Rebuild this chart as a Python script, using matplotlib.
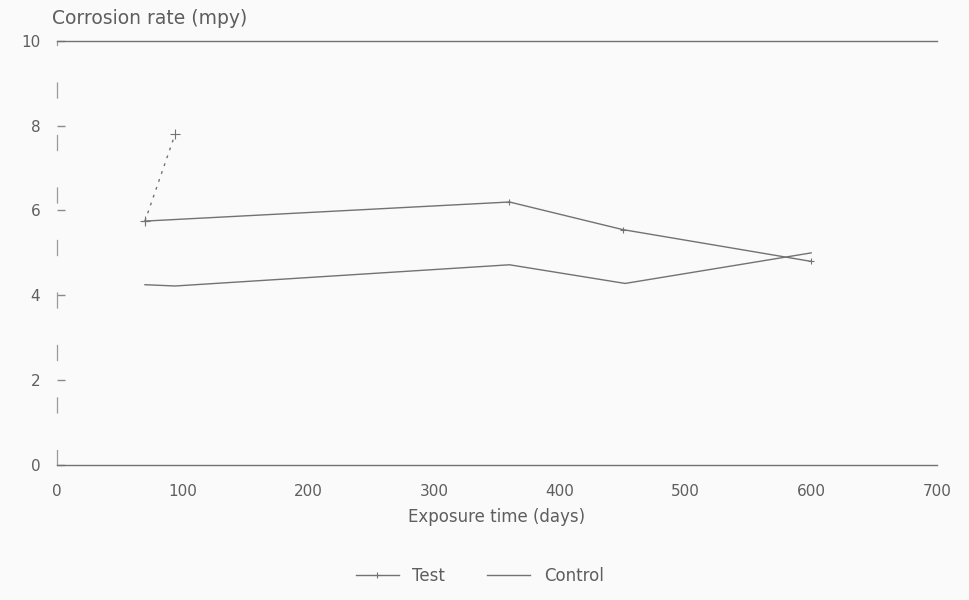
import matplotlib.pyplot as plt

# values
test_days = [70, 360, 450, 600]
test_rate = [5.75, 6.2, 5.55, 4.8]
# short dotted piece at the start of the test curve
test_early_days = [70, 94]
test_early_rate = [5.75, 7.8]

control_days = [70, 94, 360, 452, 600]
control_rate = [4.25, 4.22, 4.72, 4.28, 5.0]

x_ticks = [0, 100, 200, 300, 400, 500, 600, 700]
y_ticks = [0, 2, 4, 6, 8, 10]

ink = "#727272"
txt = "#5e5e5e"

fig = plt.figure(figsize=(9.69, 6.0), dpi=100, facecolor="#fafafa")
ax = fig.add_axes([0.0588, 0.225, 0.908, 0.707], facecolor="#fafafa")

ax.plot(test_days, test_rate, color=ink, lw=1.0, marker="+", ms=5, mew=0.8, label="Test")
ax.plot(test_early_days, test_early_rate, color=ink, lw=1.0, ls=(0, (2, 4)), marker="+", ms=7, mew=0.8)
ax.plot(control_days, control_rate, color=ink, lw=1.0, label="Control")

ax.set_xlim(0, 700)
ax.set_ylim(0, 10)
ax.set_xticks(x_ticks)
ax.set_yticks(y_ticks)

for s in ["top", "bottom"]:
    ax.spines[s].set_color(ink)
    ax.spines[s].set_linewidth(1.0)
ax.spines["left"].set_color("#9a9a9a")
ax.spines["left"].set_linewidth(0.9)
ax.spines["left"].set_linestyle((0, (12, 30)))
ax.spines["right"].set_visible(False)

ax.tick_params(axis="y", direction="in", length=6, width=1, color="#8a8a8a",
               labelsize=11, labelcolor=txt, pad=12)
ax.tick_params(axis="x", length=0, labelsize=11, labelcolor=txt, pad=14)

ax.set_xlabel("Exposure time (days)", fontsize=12, color=txt, labelpad=6)
fig.text(0.054, 0.953, "Corrosion rate (mpy)", fontsize=13.5, color=txt, ha="left", va="bottom")

fig.legend(loc="lower center", bbox_to_anchor=(0.495, 0.0), ncol=2, frameon=False,
           fontsize=12, labelcolor=txt, handlelength=2.6, columnspacing=2.5)

fig.savefig("out.png", dpi=100, facecolor=fig.get_facecolor())
